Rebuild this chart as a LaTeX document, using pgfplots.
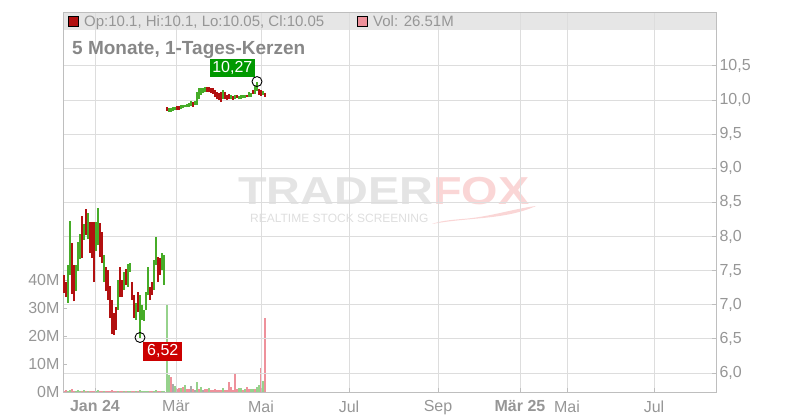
\documentclass[border=0pt]{standalone}
\usepackage{fontspec}
\setmainfont{Liberation Sans}
\usepackage{graphicx}
\usepackage{pgfplots}
\pgfplotsset{compat=1.18}
\usepackage{pgfplotstable}

\definecolor{cgreen}{RGB}{70,172,40}
\definecolor{cred}{RGB}{178,16,16}
\definecolor{vgreen}{RGB}{150,210,140}
\definecolor{vred}{RGB}{238,145,155}
\definecolor{vgrey}{RGB}{170,170,170}
\definecolor{lab}{RGB}{150,150,150}
\definecolor{gridc}{RGB}{221,221,221}
\definecolor{axc}{RGB}{190,190,190}
\definecolor{band}{RGB}{230,230,230}
\definecolor{lgreen}{RGB}{0,153,0}
\definecolor{lred}{RGB}{204,0,0}
\definecolor{wmgrey}{RGB}{228,228,228}
\definecolor{wmpink}{RGB}{250,214,214}
\definecolor{wmsub}{RGB}{222,222,222}

% candles: x lo hi
\pgfplotstableread{
x lo hi
68 7.03 7.58
70 7.44 8.23
76 7.20 7.58
78 7.49 7.92
80 7.67 8.04
84 7.95 8.18
88 7.96 8.34
96 7.79 8.21
98 7.88 8.42
104 7.33 7.73
118 6.92 7.36
124 7.22 7.48
128 7.26 7.60
130 7.48 7.61
136 6.78 7.03
140 6.52 7.14
142 6.78 7.00
144 6.76 6.92
146 6.92 7.19
148 7.14 7.55
154 7.22 7.66
156 7.58 7.99
162 7.51 7.76
164 7.29 7.73
169 9.83 9.88
171 9.83 9.88
173 9.84 9.89
175 9.85 9.90
181 9.87 9.92
183 9.88 9.93
185 9.89 9.93
187 9.89 9.94
189 9.90 9.95
191 9.91 9.98
195 9.93 9.99
197 9.93 10.11
199 10.01 10.17
201 10.08 10.18
203 10.10 10.17
205 10.11 10.19
223 10.02 10.14
231 10.02 10.07
235 10.02 10.08
239 10.01 10.06
241 10.02 10.07
243 10.03 10.08
245 10.03 10.08
249 10.05 10.11
251 10.04 10.10
255 10.09 10.21
257 10.13 10.27
263 10.08 10.13
}\candG

\pgfplotstableread{
x lo hi
64 7.17 7.44
66 7.11 7.33
72 7.16 7.90
74 7.05 7.58
82 7.69 8.30
86 8.02 8.40
90 7.76 8.21
92 7.69 8.21
94 7.33 8.21
100 7.70 8.20
102 7.61 8.07
106 7.20 7.55
108 7.07 7.51
110 6.81 7.27
112 6.57 7.07
114 6.56 6.88
116 6.63 6.97
120 7.11 7.55
122 7.11 7.36
126 7.29 7.52
132 7.07 7.33
134 6.81 7.14
138 6.89 7.19
150 7.07 7.26
152 7.14 7.33
158 7.33 7.70
160 7.44 7.69
167 9.84 9.90
177 9.86 9.91
179 9.86 9.91
193 9.90 9.97
207 10.12 10.19
209 10.11 10.19
211 10.10 10.18
213 10.09 10.17
215 10.04 10.14
217 10.01 10.12
219 10.00 10.10
221 9.97 10.12
225 10.01 10.11
227 10.00 10.08
229 10.02 10.09
233 10.00 10.06
237 10.03 10.08
247 10.04 10.08
253 10.09 10.15
259 10.08 10.16
261 10.06 10.14
265 10.05 10.10
}\candR

% volumes in millions: x v
\pgfplotstableread{
x v
68 0.5
70 0.6
76 0.5
78 0.6
80 0.5
84 0.6
88 0.5
96 0.5
98 0.6
104 0.5
118 0.5
124 0.3
128 0.5
130 0.5
136 0.5
140 0.6
142 0.5
144 0.5
146 0.4
148 0.5
154 0.5
156 0.6
162 0.4
164 0.5
167 31.0
169 6.1
175 2.1
181 1.3
185 2.4
197 3.6
201 1.7
209 1.5
223 1.5
239 1.5
241 1.5
245 1.2
251 1.2
253 1.2
257 1.7
259 2.6
263 4.0
}\volG

\pgfplotstableread{
x v
64 0.5
66 0.6
72 1.2
74 0.5
82 0.5
86 0.5
90 0.4
92 0.5
94 0.5
100 0.5
102 0.4
106 0.5
108 0.5
110 0.4
112 0.6
114 0.5
116 0.5
120 0.4
122 0.4
126 0.3
132 0.4
134 0.5
138 0.4
150 0.5
152 0.4
158 0.5
160 0.5
171 5.2
177 1.0
179 1.3
183 1.7
187 1.0
189 1.2
193 1.2
199 1.2
205 1.2
207 1.2
211 0.8
213 0.6
215 1.0
217 0.8
219 0.8
221 0.8
225 0.6
227 0.6
229 3.6
231 1.7
233 0.6
235 6.7
237 1.2
243 0.8
247 1.7
249 1.2
255 1.2
261 8.6
265 26.5
}\volR

\pgfplotstableread{
x v
173 2.9
191 2.1
195 0.8
203 0.8
}\volN

\begin{document}
\begin{tikzpicture}[x=1pt,y=1pt]
\path[use as bounding box] (0,0) rectangle (800,420);
% header band
\fill[band] (63,390) rectangle (716,408);
% watermark
\node[anchor=base west, inner sep=0, font=\bfseries\fontsize{39}{39}\selectfont] at (238,215)
  {\scalebox{1.2}[1]{\textcolor{wmgrey}{TRADER}\textcolor{wmpink}{FOX}}};
\node[anchor=base west, inner sep=0, text=wmsub, font=\fontsize{12}{12}\selectfont] at (250,197)
  {REALTIME STOCK SCREENING};
\fill[wmpink] (432,196) .. controls (470,203) and (505,200) .. (536,214)
  .. controls (512,211) and (490,203) .. (462,201) .. controls (450,200) and (440,199) .. (432,196) -- cycle;

% volume axis (left)
\begin{axis}[
  at={(63pt,28pt)}, anchor=south west,
  width=653pt, height=380pt, scale only axis,
  xmin=63, xmax=716, ymin=0, ymax=135.7,
  axis x line=none, axis y line*=left,
  axis line style={draw=none},
  ytick={0,10,20,30,40}, yticklabels={0M,10M,20M,30M,40M},
  tick align=inside, major tick length=4pt,
  ytick style={draw=axc, line width=0.8pt},
  yticklabel style={font=\fontsize{16}{16}\selectfont, text=lab},
]
\addplot[ycomb, no marks, draw=vgreen, line width=1.2pt] table[x=x,y=v] {\volG};
\addplot[ycomb, no marks, draw=vred, line width=1.2pt] table[x=x,y=v] {\volR};
\addplot[ycomb, no marks, draw=vgrey, line width=1.2pt] table[x=x,y=v] {\volN};
\end{axis}

% price axis (right)
\begin{axis}[
  at={(63pt,28pt)}, anchor=south west,
  width=653pt, height=380pt, scale only axis,
  xmin=63, xmax=716, ymin=5.7216, ymax=11.289,
  axis line style={draw=axc, line width=0.8pt},
  xtick={95,176,261,349,438,520,567,654},
  xticklabels={\textbf{Jan 24},Mär,Mai,Jul,Sep,\textbf{Mär 25},Mai,Jul},
  ytick={6,6.5,7,7.5,8,8.5,9,9.5,10,10.5},
  ytick pos=right, yticklabel pos=right,
  xtick pos=bottom,
  xmajorgrids, ymajorgrids,
  grid style={draw=gridc, line width=0.8pt},
  major tick length=4pt,
  xtick style={draw=axc, line width=0.8pt},
  ytick style={draw=axc, line width=0.8pt},
  x tick label style={font=\fontsize{16}{16}\selectfont, text=lab, yshift=-5pt},
  y tick label style={font=\fontsize{16}{16}\selectfont, text=lab},
  /pgf/number format/.cd, fixed, fixed zerofill, precision=1, use comma, assume math mode=true,
]
\addplot[draw=none, no marks, error bars/.cd, y dir=plus, y explicit, error mark=none,
  error bar style={draw=cgreen, line width=1.2pt}]
  table[x=x, y=lo, y error expr=\thisrow{hi}-\thisrow{lo}] {\candG};
\addplot[draw=none, no marks, error bars/.cd, y dir=plus, y explicit, error mark=none,
  error bar style={draw=cred, line width=1.2pt}]
  table[x=x, y=lo, y error expr=\thisrow{hi}-\thisrow{lo}] {\candR};
\addplot[only marks, mark=o, mark size=5pt, mark options={draw=black, line width=0.9pt}]
  coordinates {(257,10.27) (140,6.52)};
\node[anchor=south east, fill=lgreen, text=white, inner xsep=2.5pt, inner ysep=0pt,
  minimum height=18pt, font=\fontsize{16}{16}\selectfont, xshift=-2pt, yshift=4pt]
  at (axis cs:257,10.27) {10,27};
\node[anchor=north west, fill=lred, text=white, inner xsep=4pt, inner ysep=0pt,
  minimum height=19pt, font=\fontsize{16}{16}\selectfont, xshift=3pt, yshift=-4pt]
  at (axis cs:140,6.52) {6,52};
\end{axis}

% header texts
\filldraw[fill=cred, draw=black, line width=0.8pt] (68,394) rectangle (78,404);
\node[anchor=base west, inner sep=0, text=lab, font=\fontsize{15}{15}\selectfont] at (84,393.3)
  {Op:10.1, Hi:10.1, Lo:10.05, Cl:10.05};
\filldraw[fill=vred, draw=black, line width=0.8pt] (357,394) rectangle (367,404);
\node[anchor=base west, inner sep=0, text=lab, font=\fontsize{15}{15}\selectfont] at (373,393.3)
  {Vol: 26.51M};
\node[anchor=base west, inner sep=0, text=lab!90!black, font=\bfseries\fontsize{19}{19}\selectfont] at (72,365.7)
  {5 Monate, 1-Tages-Kerzen};
\end{tikzpicture}
\end{document}
